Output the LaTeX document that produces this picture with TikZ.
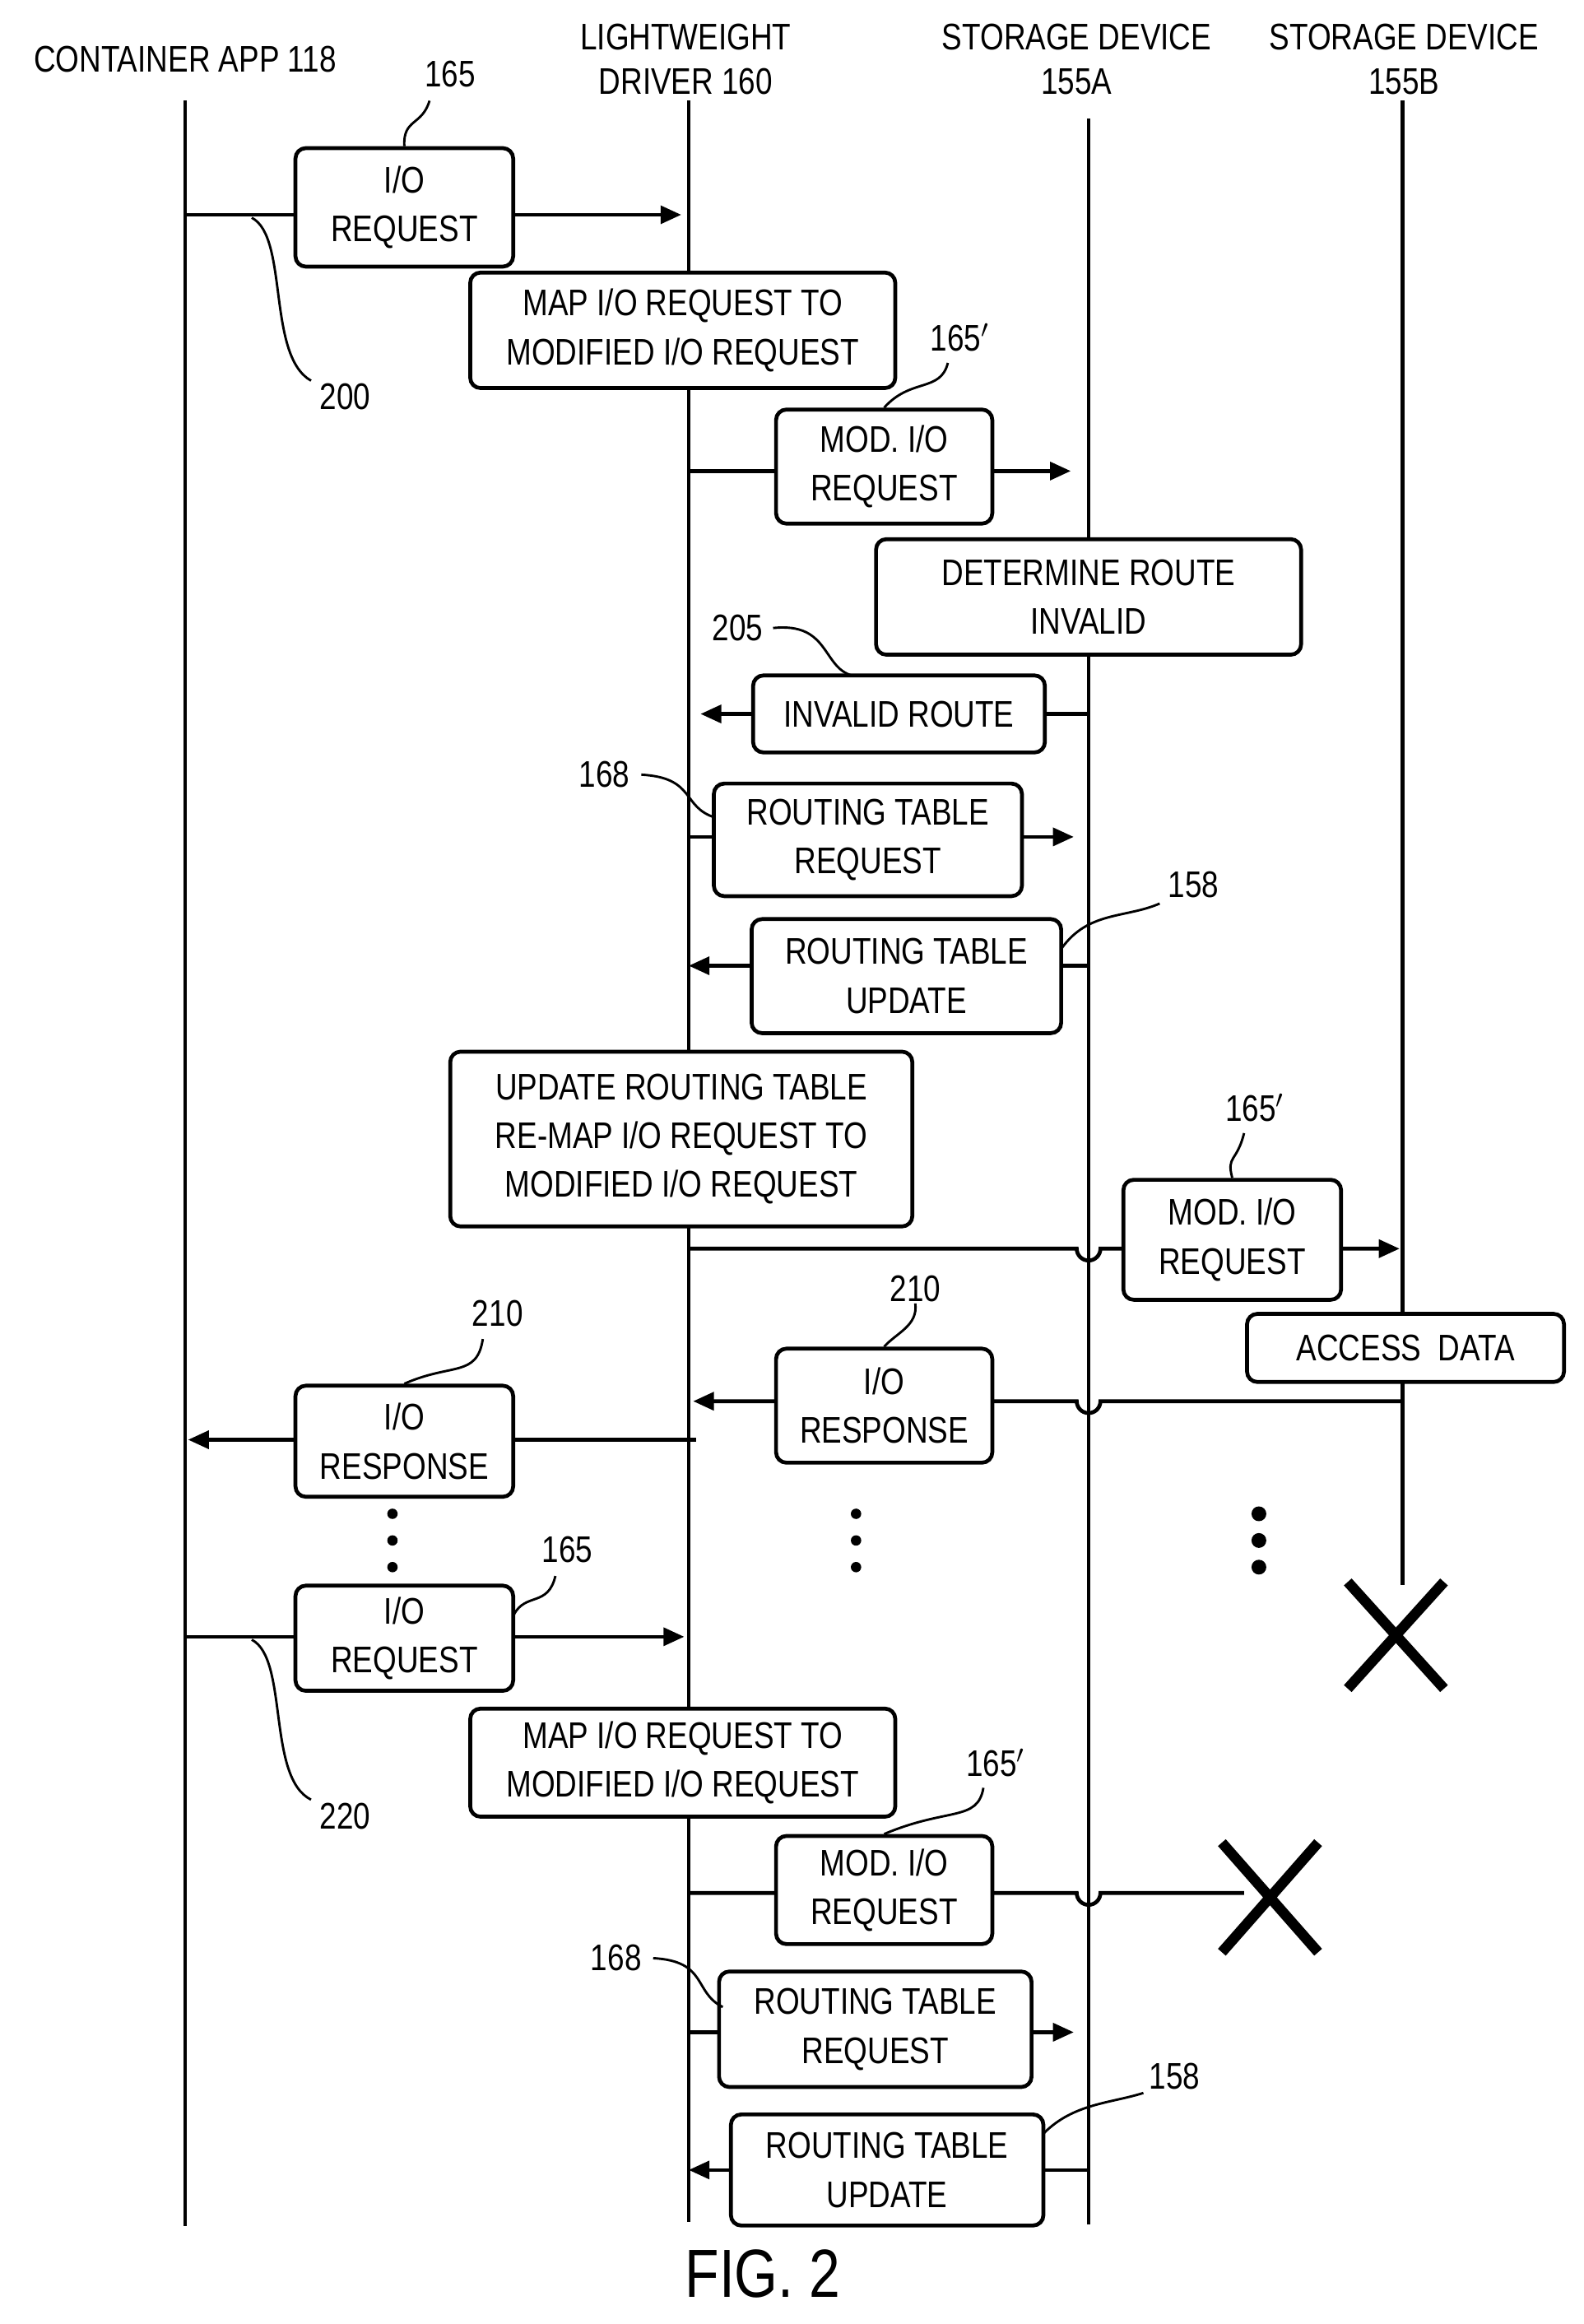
\documentclass[tikz,border=0pt]{standalone}
\usepackage{fontspec}
\setmainfont{Liberation Sans}[FakeStretch=0.82]
\usetikzlibrary{arrows.meta}
\begin{document}
\begin{tikzpicture}[x=1pt,y=-1pt,line width=2.6pt,
 box/.style={draw,rounded corners=7pt,fill=white,align=center,inner sep=0pt,font=\fontsize{25}{33}\selectfont},
 lbl/.style={font=\fontsize{25}{30}\selectfont,inner sep=1pt},
 ld/.style={line width=1.6pt},
 arr/.style={-{Triangle[length=14pt,width=12pt]}},
 dot/.style={circle,fill,inner sep=0pt,minimum size=7pt}]
\useasboundingbox (0,0) rectangle (1069,1569);
% headers
\node[lbl,align=center] (hA) at (125,40) {CONTAINER APP 118};
\node[lbl,align=center] (hB) at (463,40) {LIGHTWEIGHT\\DRIVER 160};
\node[lbl,align=center] (hC) at (727,40) {STORAGE DEVICE\\155A};
\node[lbl,align=center] (hD) at (948,40) {STORAGE DEVICE\\155B};
% lifelines
\coordinate (a0) at (125,68); \coordinate (a1) at (125,1503);
\coordinate (b0) at (465,68); \coordinate (b1) at (465,1500);
\coordinate (c0) at (735,80); \coordinate (c1) at (735,1502);
\coordinate (d0) at (947,68); \coordinate (d1) at (947,1070);
\draw (a0)--(a1); \draw (b0)--(b1); \draw (c0)--(c1); \draw (d0)--(d1);
% messages
\draw[arr] (125,145) -- (460,145);
\draw[arr] (465,318) -- (723,318);
\draw[arr] (735,482) -- (473,482);
\draw[arr] (465,565) -- (725,565);
\draw[arr] (735,652) -- (465,652);
\draw[arr] (465,843) -- (727,843) arc(180:0:8) -- (945,843);
\draw[arr] (947,946) -- (743,946) arc(0:180:8) -- (468,946);
\draw[arr] (470,972) -- (127,972);
\draw[arr] (125,1105) -- (462,1105);
\draw (465,1278) -- (727,1278) arc(180:0:8) -- (840,1278);
\draw[arr] (465,1372) -- (725,1372);
\draw[arr] (735,1465) -- (465,1465);
% boxes
\node[box,minimum width=147pt,minimum height=80pt] (r1) at (273,140) {I/O\\REQUEST};
\node[box,minimum width=287pt,minimum height=78pt] (m1) at (461,223) {MAP I/O REQUEST TO\\MODIFIED I/O REQUEST};
\node[box,minimum width=146pt,minimum height=77pt] (mo1) at (597,315) {MOD. I/O\\REQUEST};
\node[box,minimum width=287pt,minimum height=78pt] (det) at (735,403) {DETERMINE ROUTE\\INVALID};
\node[box,minimum width=197pt,minimum height=52pt] (inv) at (607,482) {INVALID ROUTE};
\node[box,minimum width=208pt,minimum height=76pt] (rtq1) at (586,567) {ROUTING TABLE\\REQUEST};
\node[box,minimum width=209pt,minimum height=77pt] (rtu1) at (612,659) {ROUTING TABLE\\UPDATE};
\node[box,minimum width=312pt,minimum height=118pt] (upd) at (460,769) {UPDATE ROUTING TABLE\\RE-MAP I/O REQUEST TO\\MODIFIED I/O REQUEST};
\node[box,minimum width=147pt,minimum height=81pt] (mo2) at (832,837) {MOD. I/O\\REQUEST};
\node[box,minimum width=214pt,minimum height=46pt] (acc) at (949,910) {ACCESS\ \ DATA};
\node[box,minimum width=146pt,minimum height=77pt] (rs1) at (597,949) {I/O\\RESPONSE};
\node[box,minimum width=147pt,minimum height=75pt] (rs2) at (273,973) {I/O\\RESPONSE};
\node[box,minimum width=147pt,minimum height=71pt] (r2) at (273,1106) {I/O\\REQUEST};
\node[box,minimum width=287pt,minimum height=73pt] (m2) at (461,1190) {MAP I/O REQUEST TO\\MODIFIED I/O REQUEST};
\node[box,minimum width=146pt,minimum height=73pt] (mo3) at (597,1276) {MOD. I/O\\REQUEST};
\node[box,minimum width=211pt,minimum height=78pt] (rtq2) at (591,1370) {ROUTING TABLE\\REQUEST};
\node[box,minimum width=211pt,minimum height=75pt] (rtu2) at (599,1465) {ROUTING TABLE\\UPDATE};
% dots
\foreach \x/\s in {265/6pt,578/6pt,850/9pt} \foreach \y in {1022,1040,1058}
  \fill (\x,\y) circle[radius=\s/2+0.5pt];
% X marks
\draw[line width=7pt] (910,1068)--(975,1140) (975,1068)--(910,1140);
\draw[line width=7pt] (825,1244)--(890,1318) (890,1244)--(825,1318);
% labels
\node[lbl] (l1) at (304,50) {165};
\draw[ld] (290,68) .. controls (285,85) and (272,80) .. (r1.north);
\node[lbl] (l2) at (233,268) {200};
\draw[ld] (170,147) .. controls (195,160) and (180,240) .. (210,257);
\node[lbl] (l3) at (648,228) {165$'$};
\draw[ld] (640,245) .. controls (635,265) and (615,255) .. (mo1.north);
\node[lbl] (l4) at (498,424) {205};
\draw[ld] (522,424) .. controls (560,420) and (555,450) .. (575,456);
\node[lbl] (l5) at (408,523) {168};
\draw[ld] (433,523) .. controls (470,525) and (460,545) .. (483,552);
\node[lbl] (l6) at (806,597) {158};
\draw[ld] (783,610) .. controls (760,620) and (735,615) .. (717,640);
\node[lbl] (l7) at (847,748) {165$'$};
\draw[ld] (840,765) .. controls (835,785) and (828,780) .. (mo2.north);
\node[lbl] (l8) at (336,887) {210};
\draw[ld] (326,904) .. controls (322,930) and (305,920) .. (rs2.north);
\node[lbl] (l9) at (618,870) {210};
\draw[ld] (618,880) .. controls (620,895) and (605,900) .. (rs1.north);
\node[lbl] (l10) at (383,1046) {165};
\draw[ld] (375,1064) .. controls (370,1085) and (355,1075) .. (347,1090);
\node[lbl] (l11) at (233,1226) {220};
\draw[ld] (170,1107) .. controls (195,1120) and (180,1200) .. (210,1215);
\node[lbl] (l12) at (672,1190) {165$'$};
\draw[ld] (664,1207) .. controls (660,1230) and (640,1220) .. (mo3.north);
\node[lbl] (l13) at (416,1322) {168};
\draw[ld] (441,1322) .. controls (478,1324) and (468,1345) .. (488,1355);
\node[lbl] (l14) at (793,1402) {158};
\draw[ld] (772,1413) .. controls (750,1420) and (725,1420) .. (705,1440);
\node[font=\fontsize{46}{50}\selectfont] (fig) at (515,1535) {FIG. 2};
\end{tikzpicture}
\end{document}
